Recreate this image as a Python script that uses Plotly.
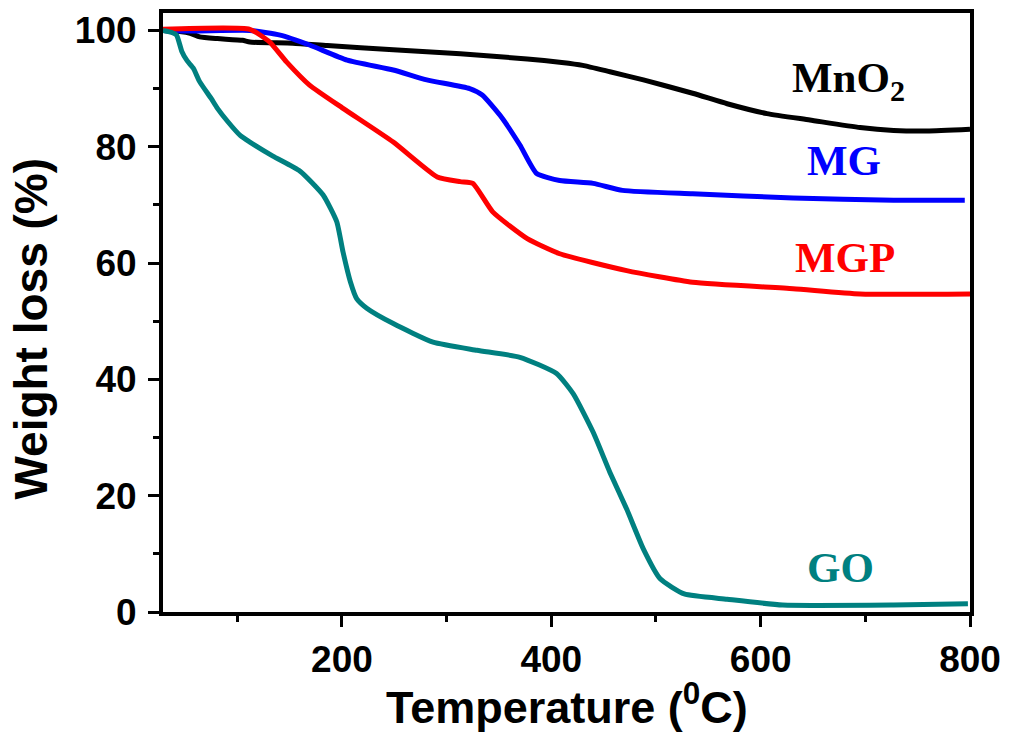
import plotly.graph_objects as go

# ---- data ----
mno2_T = [29, 45, 55, 64, 81, 105, 112, 153, 186, 249, 313, 377, 410, 430, 456, 488, 535, 568, 606, 647, 695, 727, 759, 800]
mno2_W = [100, 99.8, 99.5, 98.9, 98.6, 98.3, 98.0, 97.8, 97.4, 96.7, 96.0, 95.1, 94.5, 94.0, 92.9, 91.5, 89.2, 87.4, 85.7, 84.6, 83.3, 82.8, 82.7, 83.0]

mg_T = [29, 58, 112, 141, 169, 205, 249, 281, 322, 334, 351, 370, 386, 408, 440, 468, 535, 631, 727, 795]
mg_W = [100, 99.9, 100, 99.2, 97.5, 94.9, 93.2, 91.5, 90.0, 88.9, 85.4, 80.3, 75.4, 74.2, 73.7, 72.5, 71.9, 71.2, 70.8, 70.8]

mgp_T = [29, 112, 131, 147, 169, 201, 249, 291, 313, 325, 344, 377, 408, 472, 535, 631, 695, 800]
mgp_W = [100.2, 100.2, 98.0, 94.6, 90.6, 86.6, 80.8, 74.8, 74.0, 73.7, 68.8, 64.2, 61.6, 58.7, 56.7, 55.6, 54.7, 54.7]

go_T = [29, 38, 42, 47, 52, 58, 64, 75, 81, 91, 103, 112, 134, 160, 182, 195, 201, 208, 214, 224, 249, 287, 329, 370, 405, 421, 440, 456, 472, 488, 504, 527, 568, 621, 727, 798]
go_W = [100, 99.6, 99.2, 96.4, 94.8, 93.5, 91.2, 88.3, 86.6, 84.3, 81.9, 80.8, 78.4, 75.8, 71.7, 67.1, 61.9, 56.8, 53.9, 52.2, 49.6, 46.4, 45.0, 43.8, 41.0, 37.5, 30.9, 24.0, 17.7, 10.8, 5.7, 3.1, 2.2, 1.2, 1.2, 1.4]

series_names = ["MnO<sub>2</sub>", "MG", "MGP", "GO"]
series_colors = ["#000000", "#0000FF", "#FF0000", "#008080"]
label_pos_T = [628, 642, 631, 642]
label_pos_W = [91.3, 77.6, 61.0, 7.7]

x_ticks = [200, 400, 600, 800]
y_ticks = [0, 20, 40, 60, 80, 100]

fig = go.Figure()
for T, W, c in [(mno2_T, mno2_W, series_colors[0]), (mg_T, mg_W, series_colors[1]),
                (mgp_T, mgp_W, series_colors[2]), (go_T, go_W, series_colors[3])]:
    fig.add_trace(go.Scatter(x=T, y=W, mode="lines",
                             line=dict(color=c, width=5, shape="spline", smoothing=0.5),
                             showlegend=False, hoverinfo="skip"))

for name, c, tx, wy in zip(series_names, series_colors, label_pos_T, label_pos_W):
    fig.add_annotation(x=tx, y=wy, xref="x", yref="y", text="<b>" + name + "</b>",
                       showarrow=False, xanchor="left", yanchor="middle",
                       font=dict(family="Liberation Serif", size=43, color=c))

# axis titles as annotations for exact placement
fig.add_annotation(x=0.5, y=-0.154, xref="paper", yref="paper",
                   text="<b>Temperature (<sup>0</sup>C)</b>", showarrow=False,
                   xanchor="center", yanchor="middle",
                   font=dict(family="Liberation Sans", size=45, color="black"))
fig.add_annotation(x=-0.163, y=0.474, xref="paper", yref="paper",
                   text="<b>Weight loss (%)</b>", showarrow=False, textangle=-90,
                   xanchor="center", yanchor="middle",
                   font=dict(family="Liberation Sans", size=46, color="black"))

axis_common = dict(showline=True, linewidth=4, linecolor="black", mirror=True,
                   ticks="outside", ticklen=11, tickwidth=3, tickcolor="black",
                   showgrid=False, zeroline=False, automargin=False,
                   tickfont=dict(family="Liberation Sans", size=37, color="black", weight="bold"))

fig.update_xaxes(range=[29, 800], tickmode="array", tickvals=x_ticks,
                 minor=dict(dtick=100, tick0=0, ticks="outside", ticklen=6, tickwidth=3, tickcolor="black"),
                 ticklabelstandoff=1, **axis_common)
fig.update_yaxes(range=[0, 103], tickmode="array", tickvals=y_ticks,
                 minor=dict(dtick=10, tick0=0, ticks="outside", ticklen=6, tickwidth=3, tickcolor="black"),
                 ticklabelstandoff=4, **axis_common)

fig.update_layout(width=1009, height=733, margin=dict(l=163, r=39, t=13, b=121),
                  plot_bgcolor="white", paper_bgcolor="white")

fig.write_html("out.html", config={"displayModeBar": False},
               post_script="document.body.style.margin='0';document.body.style.overflow='hidden';")
